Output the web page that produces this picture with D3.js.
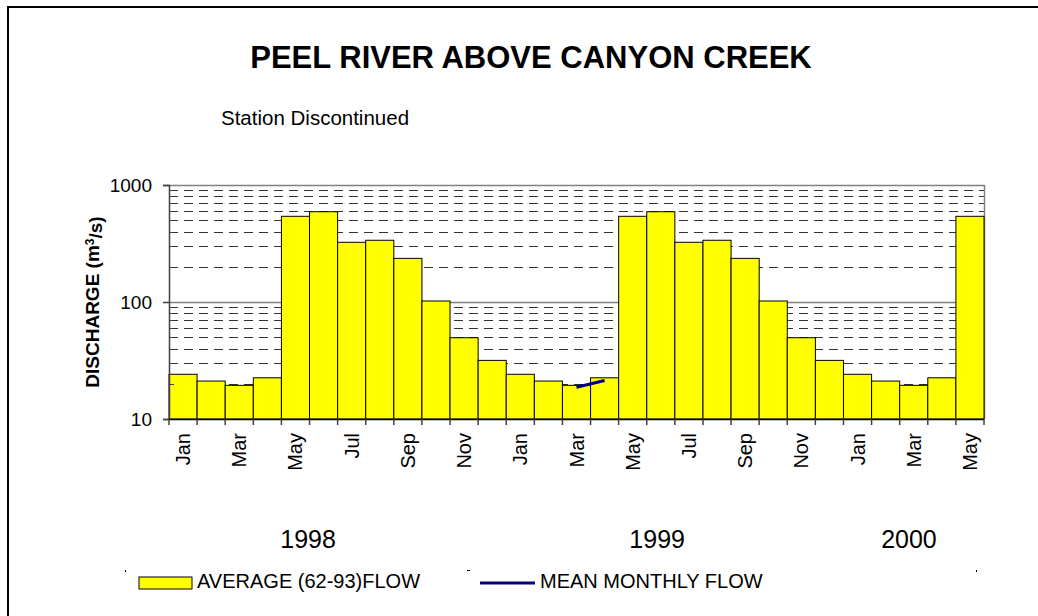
<!DOCTYPE html>
<html lang="en">
<head>
<meta charset="UTF-8">
<title>Peel River above Canyon Creek</title>
<script src="https://d3js.org/d3.v7.min.js"></script>
<style>
  body { margin: 0; background: #fff; }
  text { font-family: "Liberation Sans", Arial, sans-serif; fill: #000; }
</style>
</head>
<body>
<script>
// months Jan 1998 .. May 2000
var months = ["Jan","Feb","Mar","Apr","May","Jun","Jul","Aug","Sep","Oct","Nov","Dec",
              "Jan","Feb","Mar","Apr","May","Jun","Jul","Aug","Sep","Oct","Nov","Dec",
              "Jan","Feb","Mar","Apr","May"];
// long-term average flow (62-93), m3/s
var avgFlow = [24.1, 21.1, 19.4, 22.5, 540, 591, 324, 337, 236, 102, 49.5, 31.7,
               24.1, 21.1, 19.4, 22.5, 540, 591, 324, 337, 236, 102, 49.5, 31.7,
               24.1, 21.1, 19.4, 22.5, 540];
// mean monthly flow (only Mar-Apr 1999 recorded)
var meanFlow = [{i: 14, v: 18.7}, {i: 15, v: 21.3}];
var years = [{label: "1998", at: 4.95}, {label: "1999", at: 17.37}, {label: "2000", at: 26.33}];
var yTicks = [10, 100, 1000];

var width = 1038, height = 616;
var plot = {left: 169, right: 984, top: 185, bottom: 419};

var svg = d3.select("body").append("svg")
    .attr("width", width)
    .attr("height", height);

// outer frame
svg.append("rect")
    .attr("x", 8).attr("y", 7)
    .attr("width", 1040).attr("height", 620)
    .attr("fill", "none").attr("stroke", "#000").attr("stroke-width", 2);

var x = d3.scaleBand()
    .domain(d3.range(months.length))
    .range([plot.left, plot.right])
    .padding(0);

var y = d3.scaleLog()
    .domain([10, 1000])
    .range([plot.bottom, plot.top]);

// minor grid (dashed)
var minor = [];
[10, 100].forEach(function (d) {
    for (var k = 2; k <= 9; k++) minor.push(d * k);
});
svg.append("g").selectAll("line")
    .data(minor)
    .enter().append("line")
    .attr("x1", plot.left).attr("x2", plot.right)
    .attr("y1", function (d) { return Math.round(y(d)) + 0.5; })
    .attr("y2", function (d) { return Math.round(y(d)) + 0.5; })
    .attr("stroke", "#333")
    .attr("stroke-dasharray", "9,6");

// major grid
svg.append("g").selectAll("line")
    .data([100, 1000])
    .enter().append("line")
    .attr("x1", plot.left).attr("x2", plot.right)
    .attr("y1", function (d) { return Math.round(y(d)) + 0.5; })
    .attr("y2", function (d) { return Math.round(y(d)) + 0.5; })
    .attr("stroke", "#808080")
    .attr("stroke-width", 1.5);

// right border of plot
svg.append("line")
    .attr("x1", plot.right + 0.5).attr("x2", plot.right + 0.5)
    .attr("y1", plot.top).attr("y2", plot.bottom)
    .attr("stroke", "#808080").attr("stroke-width", 1.5);

// bars
svg.append("g").selectAll("rect")
    .data(avgFlow)
    .enter().append("rect")
    .attr("x", function (d, i) { return x(i); })
    .attr("width", x.bandwidth())
    .attr("y", function (d) { return y(d); })
    .attr("height", function (d) { return plot.bottom - y(d); })
    .attr("fill", "#ffff00")
    .attr("stroke", "#000")
    .attr("stroke-width", 1);

// mean monthly flow line
var line = d3.line()
    .x(function (d) { return x(d.i) + x.bandwidth() / 2; })
    .y(function (d) { return y(d.v); });
svg.append("path")
    .datum(meanFlow)
    .attr("d", line)
    .attr("fill", "none")
    .attr("stroke", "#000080")
    .attr("stroke-width", 3);

// y axis
var yAxis = d3.axisLeft(y)
    .tickValues(yTicks)
    .tickFormat(d3.format("d"))
    .tickSize(6)
    .tickPadding(11);
var gy = svg.append("g")
    .attr("transform", "translate(" + plot.left + ",0)")
    .call(yAxis);
gy.select(".domain").attr("stroke", "#404040").attr("stroke-width", 1.5);
gy.selectAll(".tick line").attr("stroke", "#404040").attr("stroke-width", 1.5);
gy.selectAll(".tick text").style("font-size", "19px").attr("dy", "0.35em");
// minor ticks inside
svg.append("g").selectAll("line")
    .data(minor)
    .enter().append("line")
    .attr("x1", plot.left).attr("x2", plot.left + 5)
    .attr("y1", function (d) { return Math.round(y(d)) + 0.5; })
    .attr("y2", function (d) { return Math.round(y(d)) + 0.5; })
    .attr("stroke", "#404040");

// x axis: ticks at band edges
var edges = d3.range(months.length + 1).map(function (i) {
    return plot.left + i * x.bandwidth();
});
svg.append("line")
    .attr("x1", plot.left).attr("x2", plot.right)
    .attr("y1", plot.bottom + 0.5).attr("y2", plot.bottom + 0.5)
    .attr("stroke", "#000").attr("stroke-width", 1.5);
svg.append("g").selectAll("line")
    .data(edges)
    .enter().append("line")
    .attr("x1", function (d) { return d; })
    .attr("x2", function (d) { return d; })
    .attr("y1", plot.bottom).attr("y2", plot.bottom + 6)
    .attr("stroke", "#404040").attr("stroke-width", 1.5);

svg.append("g").selectAll("text")
    .data(months.map(function (m, i) { return {m: m, i: i}; }).filter(function (d) { return d.i % 2 === 0; }))
    .enter().append("text")
    .attr("transform", function (d) {
        return "translate(" + (x(d.i) + x.bandwidth() / 2 + 7) + "," + (plot.bottom + 14) + ") rotate(-90)";
    })
    .attr("text-anchor", "end")
    .style("font-size", "20px")
    .text(function (d) { return d.m; });

// year labels
svg.append("g").selectAll("text")
    .data(years)
    .enter().append("text")
    .attr("x", function (d) { return plot.left + d.at * x.bandwidth(); })
    .attr("y", 548)
    .attr("text-anchor", "middle")
    .style("font-size", "25px")
    .text(function (d) { return d.label; });

// title
svg.append("text")
    .attr("x", 531).attr("y", 68)
    .attr("text-anchor", "middle")
    .style("font-size", "31px")
    .style("font-weight", "bold")
    .text("PEEL RIVER ABOVE CANYON CREEK");

svg.append("text")
    .attr("x", 221).attr("y", 125)
    .style("font-size", "20.5px")
    .text("Station Discontinued");

// y label
var yl = svg.append("text")
    .attr("transform", "translate(99,302) rotate(-90)")
    .attr("text-anchor", "middle")
    .style("font-size", "19px")
    .style("font-weight", "bold");
yl.append("tspan").text("DISCHARGE (m");
yl.append("tspan").attr("dy", "-0.45em").style("font-size", "12px").text("3");
yl.append("tspan").attr("dy", "0.45em").text("/s)");

// legend
var lg = svg.append("g");
lg.append("rect")
    .attr("x", 139).attr("y", 577).attr("width", 53).attr("height", 12)
    .attr("fill", "#ffff00").attr("stroke", "#000").attr("stroke-width", 1);
lg.append("text")
    .attr("x", 197).attr("y", 588)
    .style("font-size", "20px")
    .text("AVERAGE (62-93)FLOW");
lg.append("line")
    .attr("x1", 480).attr("x2", 535).attr("y1", 583).attr("y2", 583)
    .attr("stroke", "#000080").attr("stroke-width", 3);
lg.append("text")
    .attr("x", 540).attr("y", 588)
    .style("font-size", "20px")
    .text("MEAN MONTHLY FLOW");
// small stray marks near legend
lg.selectAll("rect.mark")
    .data([[125, 570, 1, 2], [467, 570, 3, 1], [976, 570, 1, 2]])
    .enter().append("rect")
    .attr("class", "mark")
    .attr("x", function (d) { return d[0]; })
    .attr("y", function (d) { return d[1]; })
    .attr("width", function (d) { return d[2]; })
    .attr("height", function (d) { return d[3]; })
    .attr("fill", "#000");
</script>
</body>
</html>
